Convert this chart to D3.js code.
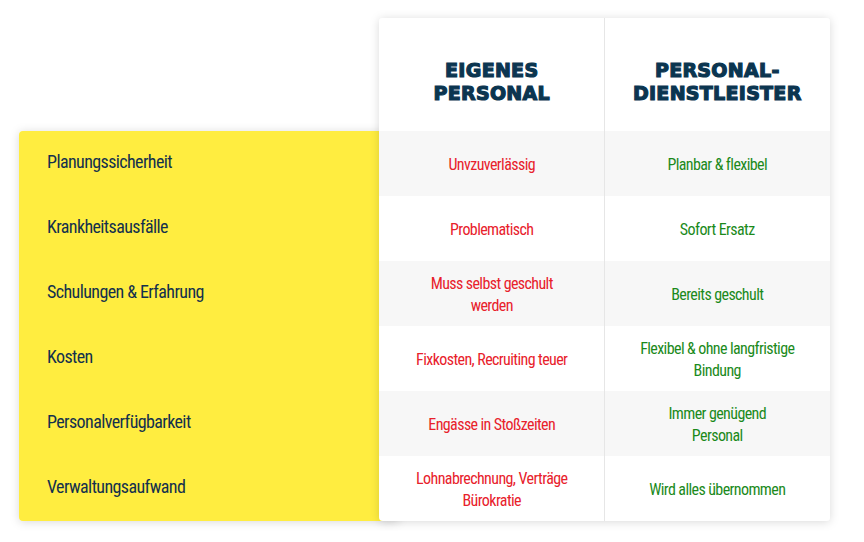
<!DOCTYPE html>
<html><head><meta charset="utf-8">
<script src="https://cdn.jsdelivr.net/npm/d3@7"></script>
<style>body{margin:0;background:#fff;} svg{display:block;}</style>
</head><body><div id="vis"></div>
<script>
// Comparison table: own staff vs. staffing agency
const COLUMNS = [["EIGENES", "PERSONAL"], ["PERSONAL-", "DIENSTLEISTER"]];
const CRITERIA = ["Planungssicherheit", "Krankheitsausfälle", "Schulungen & Erfahrung",
  "Kosten", "Personalverfügbarkeit", "Verwaltungsaufwand"];
const OWN = [["Unvzuverlässig"], ["Problematisch"], ["Muss selbst geschult", "werden"],
  ["Fixkosten, Recruiting teuer"], ["Engässe in Stoßzeiten"], ["Lohnabrechnung, Verträge", "Bürokratie"]];
const AGENCY = [["Planbar & flexibel"], ["Sofort Ersatz"], ["Bereits geschult"],
  ["Flexibel & ohne langfristige", "Bindung"], ["Immer genügend", "Personal"], ["Wird alles übernommen"]];

const W = 864, H = 542;
const svg = d3.select("#vis").append("svg").attr("width", W).attr("height", H);

const f = svg.append("defs").append("filter").attr("id", "sh")
  .attr("x", "-10%").attr("y", "-10%").attr("width", "120%").attr("height", "120%");
f.append("feDropShadow").attr("dx", 0).attr("dy", 1).attr("stdDeviation", 5)
  .attr("flood-color", "#000").attr("flood-opacity", 0.15);

const y = d3.scaleBand().domain(d3.range(CRITERIA.length)).range([131, 521]);
const x = d3.scaleBand().domain([0, 1]).range([379, 830]);
const NARROW = "'Roboto Condensed','DejaVu Sans Condensed',sans-serif";

// yellow criteria panel
svg.append("rect").attr("x", 19).attr("y", 131).attr("width", 380).attr("height", 390)
  .attr("rx", 4).attr("fill", "#ffed3f").attr("filter", "url(#sh)");

svg.append("g").selectAll("text").data(CRITERIA).join("text")
  .attr("x", 47).attr("y", (d, i) => y(i) + y.bandwidth() / 2)
  .attr("dominant-baseline", "middle")
  .style("font-family", NARROW).style("font-size", "18px").style("fill", "#13304d")
  .style("font-stretch", "condensed").style("letter-spacing", "-0.6px")
  .text(d => d);

// white card
svg.append("rect").attr("x", 379).attr("y", 18).attr("width", 451).attr("height", 503)
  .attr("rx", 4).attr("fill", "#fff").attr("filter", "url(#sh)");

svg.append("g").selectAll("rect").data(CRITERIA.map((d, i) => i).filter(i => i % 2 === 0)).join("rect")
  .attr("x", 379).attr("y", i => y(i)).attr("width", 451).attr("height", y.bandwidth())
  .attr("fill", "#f7f7f7");

svg.append("line").attr("x1", x(1)).attr("x2", x(1)).attr("y1", 18).attr("y2", 521)
  .attr("stroke", "#e6e6e6");

// headers
COLUMNS.forEach((lines, c) => {
  const t = svg.append("text").attr("text-anchor", "middle")
    .style("font-family", "'DejaVu Sans',sans-serif").style("font-weight", "900")
    .style("font-size", "19px").style("fill", "#0b3550").style("letter-spacing", "0.3px")
    .style("stroke", "#0b3550").style("stroke-width", "1.2px");
  lines.forEach((l, k) => t.append("tspan").attr("x", x(c) + x.bandwidth() / 2)
    .attr("y", 77 + k * 23).text(l));
});

// cells
function cells(data, col, color) {
  svg.append("g").selectAll("text").data(data).join("text")
    .attr("text-anchor", "middle")
    .style("font-family", NARROW).style("font-size", "16px").style("fill", color)
    .style("font-stretch", "condensed").style("letter-spacing", "-0.6px")
    .each(function(lines, i) {
      const cy = y(i) + y.bandwidth() / 2 + 6 - (lines.length - 1) * 11;
      lines.forEach((l, k) => d3.select(this).append("tspan")
        .attr("x", x(col) + x.bandwidth() / 2).attr("y", cy + k * 22).text(l));
    });
}
cells(OWN, 0, "#e8212b");
cells(AGENCY, 1, "#1b8a1b");
</script></body></html>
